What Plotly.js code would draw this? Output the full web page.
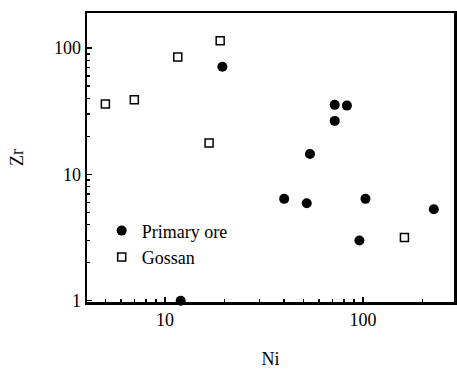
<!DOCTYPE html>
<html>
<head>
<meta charset="utf-8">
<script src="https://cdn.plot.ly/plotly-3.0.1.min.js"></script>
<style>html,body{margin:0;padding:0;background:#fff;}#chart{width:457px;height:369px;}</style>
</head>
<body>
<div id="chart"></div>
<script>
// Data
const primaryNi = [19.5, 72, 83, 72, 54, 40, 52, 103, 228, 96, 12];
const primaryZr = [71, 35.5, 35, 26.5, 14.5, 6.4, 5.9, 6.4, 5.3, 3.0, 1.0];
const gossanNi = [5, 7, 11.6, 19, 16.7, 162];
const gossanZr = [36, 39, 85, 114, 17.7, 3.16];
const xMajorTicks = [10, 100];
const yMajorTicks = [1, 10, 100];
const yTickLabels = ['1', '10', '100'];
const xTickLabels = ['10', '100'];

function minorVals(decades) {
  const out = [];
  decades.forEach(d => { for (let k = 2; k <= 9; k++) out.push(k * d); });
  return out;
}

const fontFam = 'Liberation Serif, Times New Roman, serif';

const traces = [
  {
    x: primaryNi, y: primaryZr, name: 'Primary ore', type: 'scatter', mode: 'markers',
    marker: {symbol: 'circle', size: 10, color: '#000'},
    cliponaxis: false
  },
  {
    x: gossanNi, y: gossanZr, name: 'Gossan', type: 'scatter', mode: 'markers',
    marker: {symbol: 'square-open', size: 8, color: '#000', line: {width: 1.5, color: '#000'}},
    cliponaxis: false
  }
];

const layout = {
  width: 457, height: 369,
  margin: {l: 87, r: 3, t: 13, b: 67},
  paper_bgcolor: '#fff', plot_bgcolor: '#fff',
  font: {family: fontFam, size: 18, color: '#000'},
  showlegend: true,
  legend: {
    x: 0.04, y: 0.31, xanchor: 'left', yanchor: 'top',
    bgcolor: 'rgba(0,0,0,0)', font: {family: fontFam, size: 18, color: '#000'},
    itemclick: false, tracegroupgap: 0
  },
  xaxis: {
    type: 'log', range: [0.606, 2.46],
    showgrid: false, zeroline: false,
    showline: true, linecolor: '#000', linewidth: 2.5, mirror: true,
    ticks: 'inside', ticklen: 5, tickwidth: 1.5, tickcolor: '#000',
    tickmode: 'array', tickvals: xMajorTicks, ticktext: xTickLabels,
    tickfont: {family: fontFam, size: 18, color: '#000'},
    minor: {ticks: 'inside', ticklen: 3, tickwidth: 1.5, tickcolor: '#000', tickmode: 'array', tickvals: minorVals([1, 10, 100]), showgrid: false},
    title: {text: 'Ni', font: {family: fontFam, size: 18, color: '#000'}, standoff: 28},
    automargin: false
  },
  yaxis: {
    type: 'log', range: [-0.01, 2.277],
    showgrid: false, zeroline: false,
    showline: true, linecolor: '#000', linewidth: 2.5, mirror: true,
    ticks: 'inside', ticklen: 5, tickwidth: 1.5, tickcolor: '#000',
    tickmode: 'array', tickvals: yMajorTicks, ticktext: yTickLabels,
    tickfont: {family: fontFam, size: 18, color: '#000'},
    minor: {ticks: 'inside', ticklen: 3, tickwidth: 1.5, tickcolor: '#000', tickmode: 'array', tickvals: minorVals([1, 10, 100]), showgrid: false},
    title: {text: 'Zr', font: {family: fontFam, size: 18, color: '#000'}, standoff: 26},
    automargin: false
  }
};

Plotly.newPlot('chart', traces, layout, {displayModeBar: false, staticPlot: true});
</script>
</body>
</html>
